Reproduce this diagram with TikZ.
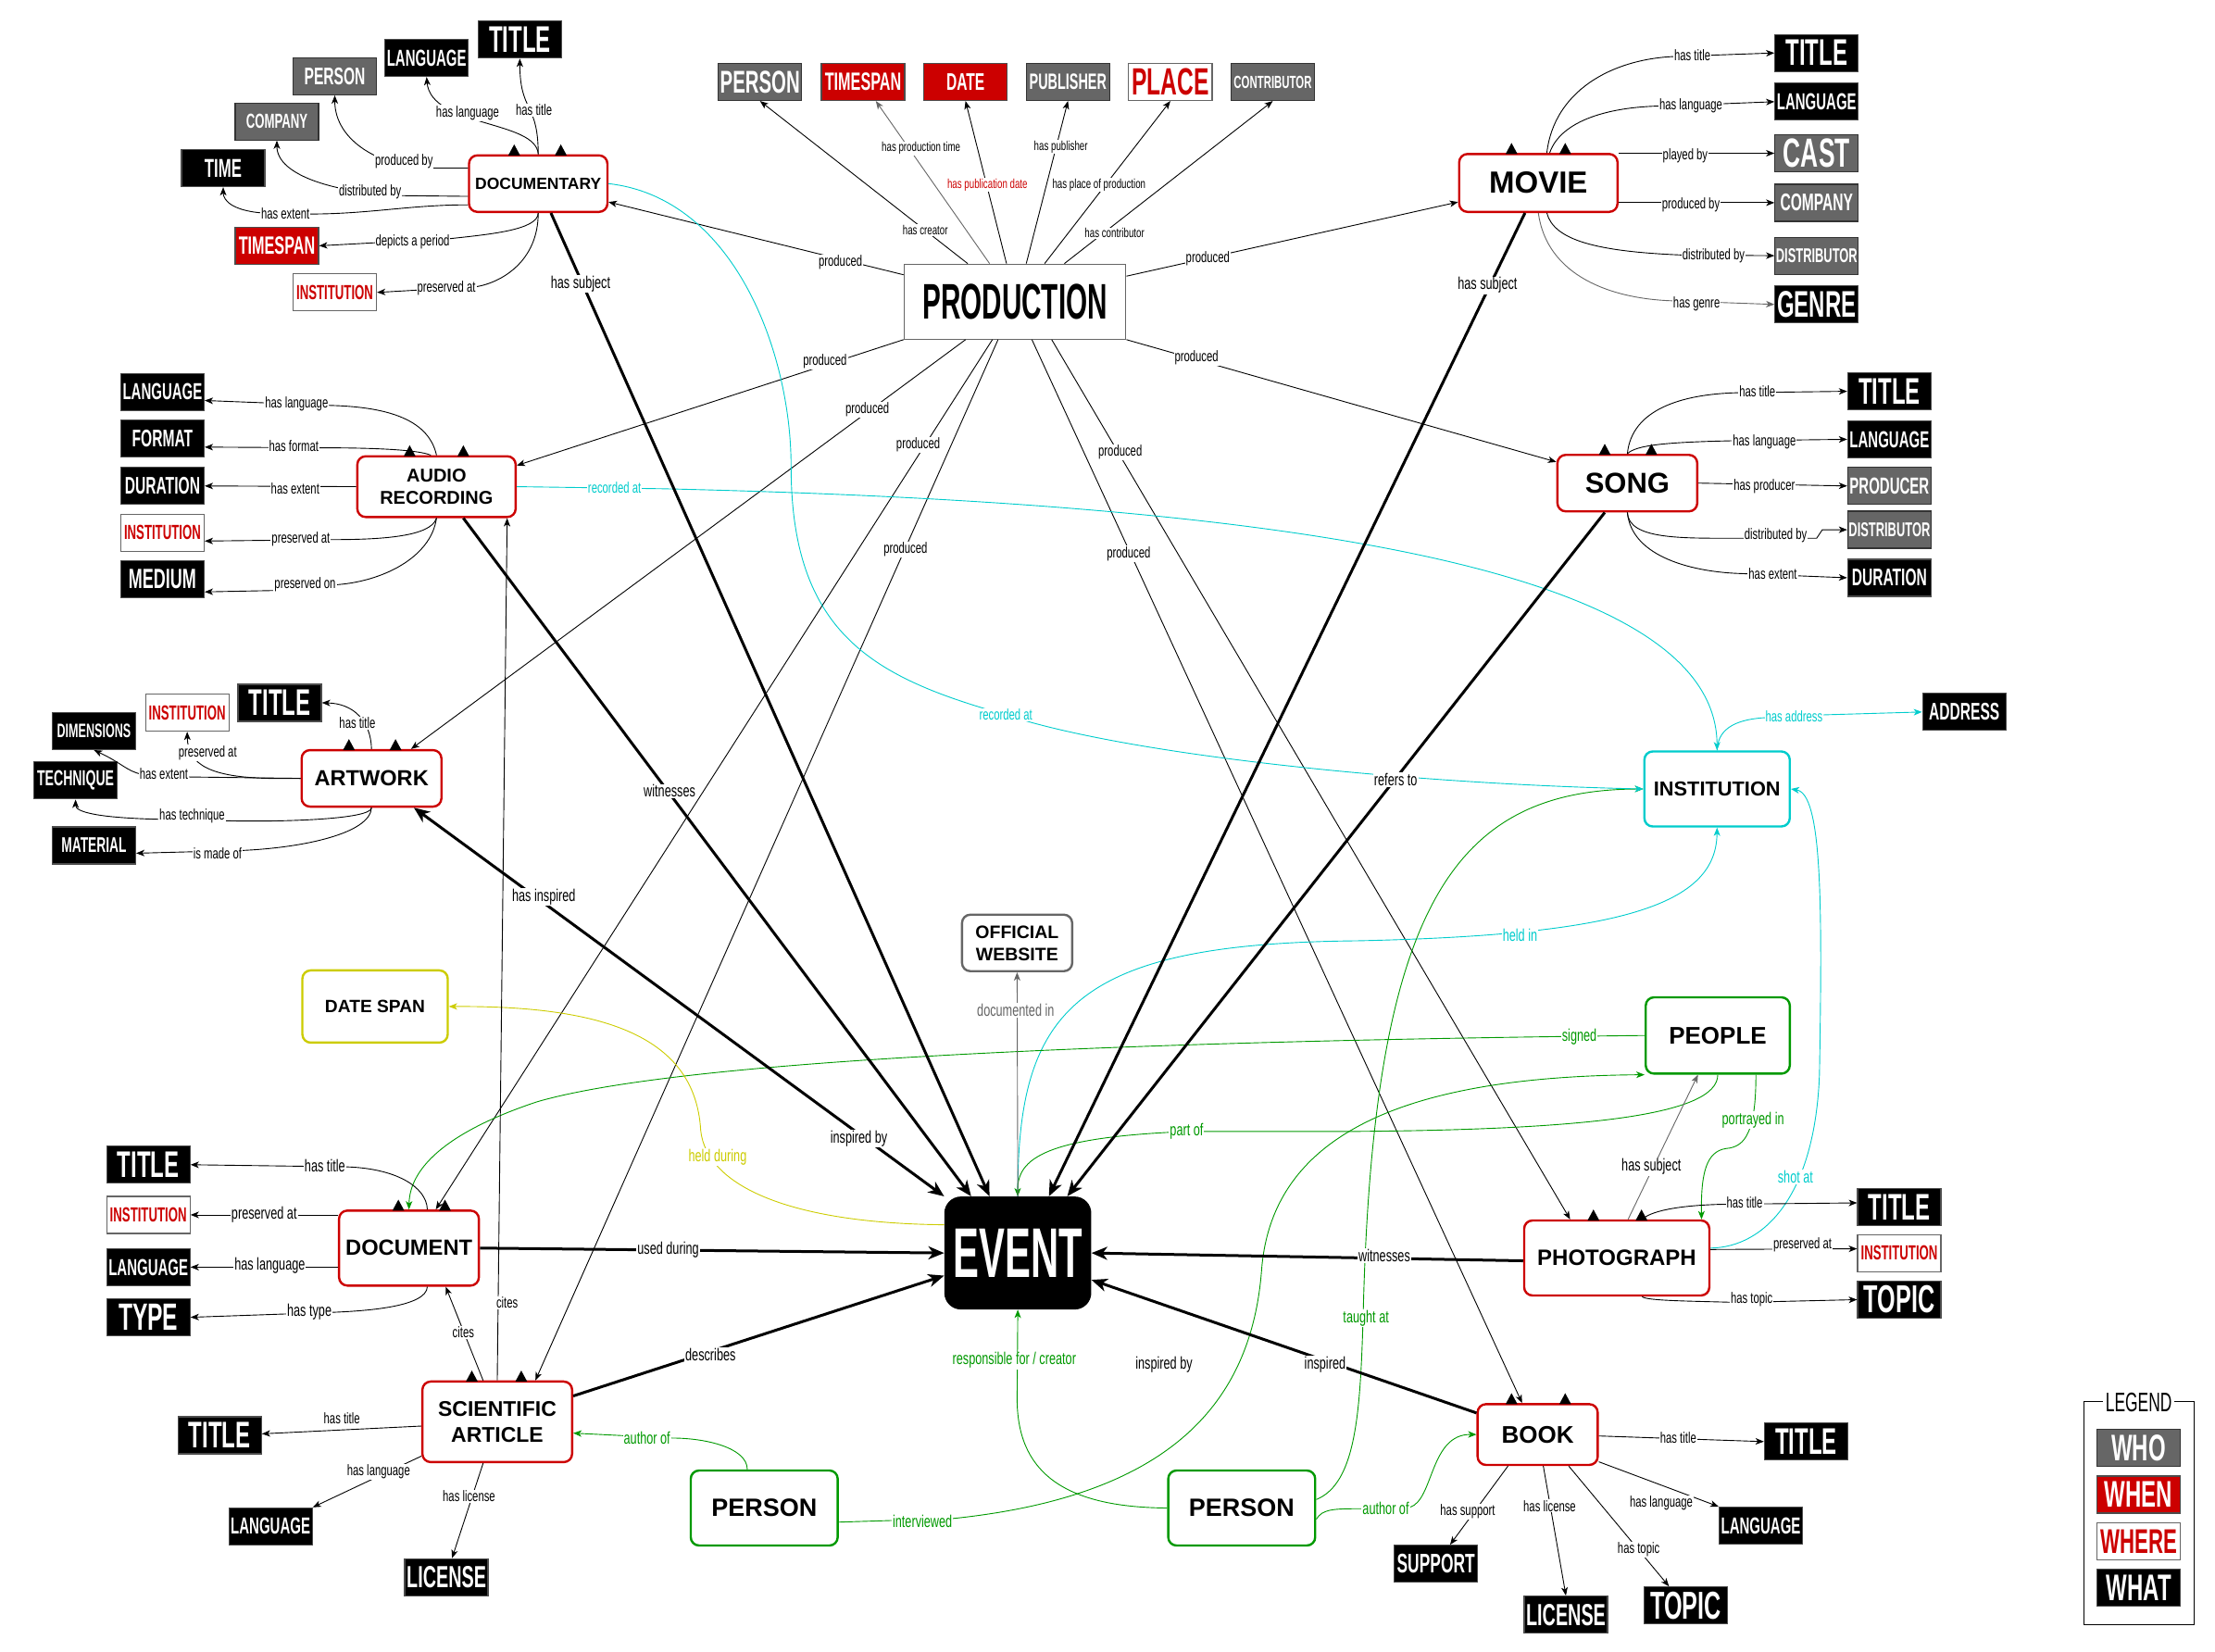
\documentclass[tikz,border=0pt]{standalone}
\usepackage{fontspec}
\setmainfont{Liberation Sans}
\newfontfamily\lblfont{Liberation Sans}[FakeStretch=0.69]
\newfontfamily\catfont{Liberation Sans}[FakeStretch=0.6]
\newfontfamily\bigfont{Liberation Sans}[FakeStretch=0.55]
\usetikzlibrary{arrows.meta,calc}
\newcommand\myfs[1]{\fontsize{#1}{#1}\selectfont}
\definecolor{dred}{HTML}{CC0000}
\definecolor{dgrey}{HTML}{666666}
\definecolor{dcyan}{HTML}{00CCCC}
\definecolor{dgreen}{HTML}{009900}
\definecolor{dyellow}{HTML}{CCCC00}
\tikzset{
 cat/.style={rectangle, minimum width=90pt, minimum height=40pt, inner sep=0pt, line width=1.2pt, font=\catfont\bfseries},
 what/.style={cat, fill=black, draw=black!70, text=white},
 who/.style={cat, fill=dgrey, draw=black!80, text=white},
 when/.style={cat, fill=dred, draw=black!70, text=white},
 where/.style={cat, fill=white, draw=dgrey, text=dred},
 ent/.style={rectangle, rounded corners=9pt, draw=dred, line width=2.4pt, fill=white, align=center, inner sep=2pt},
 lbl/.style={font=\lblfont\myfs{16.4}, fill=white, inner sep=1pt},
 clbl/.style={font=\lblfont\myfs{18.4}, fill=white, inner sep=1pt},
 plbl/.style={font=\lblfont\myfs{14.1}, fill=white, inner sep=1pt},
 tarr/.style={line width=0.9pt, -{Stealth[length=9pt,width=7pt,inset=2.5pt]}},
 Tarr/.style={line width=3pt, -{Stealth[length=17pt,width=14pt,inset=5pt]}},
 Tboth/.style={line width=3pt, {Stealth[length=17pt,width=14pt,inset=5pt]}-{Stealth[length=17pt,width=14pt,inset=5pt]}},
}
\begin{document}
\begin{tikzpicture}[x=1.52551pt,y=-1.52551pt]
\useasboundingbox (0,0) rectangle (1568,1169.4);

% ---------- entity nodes ----------
\node[ent, minimum width=149.5pt, minimum height=61pt, font=\bfseries\myfs{17.5}] (doc) at (381,130) {DOCUMENTARY};
\node[ent, minimum width=171pt, minimum height=62.5pt, font=\bfseries\myfs{33}] (movie) at (1089,129.5) {MOVIE};
\node[ent, minimum width=171pt, minimum height=65.6pt, font=\bfseries\fontsize{20}{24}\selectfont] (audio) at (309,344.5) {AUDIO\\RECORDING};
\node[ent, minimum width=151pt, minimum height=61pt, font=\bfseries\myfs{31}] (song) at (1152,342) {SONG};
\node[ent, minimum width=151pt, minimum height=61pt, font=\bfseries\myfs{23.6}] (art) at (263,551) {ARTWORK};
\node[rectangle, draw=dgrey, line width=1.2pt, fill=white, minimum width=239.5pt, minimum height=81pt, inner sep=0pt, font=\bigfont\bfseries\myfs{54}] (prod) at (718.5,213.5) {PRODUCTION};
\node[rectangle, rounded corners=18pt, fill=black, minimum width=158.7pt, minimum height=122pt, inner sep=0pt, text=white, font=\bigfont\bfseries\myfs{76}] (event) at (720.5,887) {EVENT};
\node[ent, draw=dgrey, minimum width=119pt, minimum height=61pt, font=\bfseries\fontsize{19.5}{24}\selectfont] (web) at (720,667.5) {OFFICIAL\\WEBSITE};
\node[ent, draw=dyellow, minimum width=157pt, minimum height=78pt, font=\bfseries\myfs{19.2}] (datespan) at (265.5,712.5) {DATE SPAN};
\node[ent, draw=dcyan, minimum width=157pt, minimum height=81pt, font=\bfseries\myfs{21.8}] (inst) at (1215.5,558.5) {INSTITUTION};
\node[ent, draw=dgreen, minimum width=155.6pt, minimum height=82.4pt, font=\bfseries\myfs{26}] (people) at (1216,733) {PEOPLE};
\node[ent, minimum width=151pt, minimum height=81pt, font=\bfseries\myfs{23.7}] (document) at (289.5,883.5) {DOCUMENT};
\node[ent, minimum width=161.7pt, minimum height=87pt, font=\bfseries\fontsize{23}{28}\selectfont] (sci) at (352,1006.5) {SCIENTIFIC\\ARTICLE};
\node[ent, draw=dgreen, minimum width=158.7pt, minimum height=81pt, font=\bfseries\myfs{27}] (person1) at (541,1067.5) {PERSON};
\node[ent, draw=dgreen, minimum width=158.7pt, minimum height=81pt, font=\bfseries\myfs{27}] (person2) at (879,1067.5) {PERSON};
\node[ent, minimum width=200pt, minimum height=81pt, font=\bfseries\myfs{24}] (photo) at (1144.5,890.5) {PHOTOGRAPH};
\node[ent, minimum width=129.7pt, minimum height=65.6pt, font=\bfseries\myfs{26}] (book) at (1088.5,1015.5) {BOOK};

% ---------- category boxes ----------
\node[what] (dtitle) at (368,28) {\myfs{40}TITLE};
\node[what] (dlang) at (302,41) {\myfs{25}LANGUAGE};
\node[who] (dperson) at (237,54) {\myfs{26}PERSON};
\node[who] (dcompany) at (196,86) {\myfs{22}COMPANY};
\node[what] (dtime) at (158,119) {\myfs{28}TIME};
\node[when] (dtimespan) at (196,174) {\myfs{27}TIMESPAN};
\node[where] (dinst) at (237,207) {\myfs{22}INSTITUTION};

\node[who] (pperson) at (538,58) {\myfs{34}PERSON};
\node[when] (ptimespan) at (611,58) {\myfs{27}TIMESPAN};
\node[when] (pdate) at (683.5,58) {\myfs{26}DATE};
\node[who] (ppub) at (756,58) {\myfs{24}PUBLISHER};
\node[where] (pplace) at (828.5,58) {\myfs{41}PLACE};
\node[who] (pcontrib) at (901,58) {\myfs{19}CONTRIBUTOR};

\node[what] (mtitle) at (1286,37.5) {\myfs{40}TITLE};
\node[what] (mlang) at (1286,72) {\myfs{25}LANGUAGE};
\node[who] (mcast) at (1286,108.5) {\myfs{44}CAST};
\node[who] (mcompany) at (1286,143.5) {\myfs{26}COMPANY};
\node[who] (mdistrib) at (1286,181) {\myfs{21.5}DISTRIBUTOR};
\node[what] (mgenre) at (1286,215.5) {\myfs{40}GENRE};

\node[what] (alang) at (115,277.5) {\myfs{25}LANGUAGE};
\node[what] (aformat) at (115,310.5) {\myfs{26}FORMAT};
\node[what] (aduration) at (115,344) {\myfs{26}DURATION};
\node[where] (ainst) at (115,377) {\myfs{22}INSTITUTION};
\node[what] (amedium) at (115,410) {\myfs{30}MEDIUM};

\node[what] (stitle) at (1337.5,277) {\myfs{40}TITLE};
\node[what] (slang) at (1337.5,311) {\myfs{25}LANGUAGE};
\node[who] (sproducer) at (1337.5,344) {\myfs{25}PRODUCER};
\node[who] (sdistrib) at (1337.5,375) {\myfs{21.5}DISTRIBUTOR};
\node[what] (sduration) at (1337.5,409) {\myfs{26}DURATION};

\node[what] (arttitle) at (198,497.5) {\myfs{40}TITLE};
\node[where] (artinst) at (132.5,504.5) {\myfs{22}INSTITUTION};
\node[what] (artdim) at (66.5,517.5) {\myfs{21}DIMENSIONS};
\node[what] (arttech) at (53.5,552.5) {\myfs{23.5}TECHNIQUE};
\node[what] (artmat) at (66.5,598.5) {\myfs{23}MATERIAL};

\node[what] (address) at (1390.5,504) {\myfs{26}ADDRESS};

\node[what] (doctitle) at (105,824.5) {\myfs{40}TITLE};
\node[where] (docinst) at (105,860) {\myfs{22}INSTITUTION};
\node[what] (doclang) at (105,897) {\myfs{25}LANGUAGE};
\node[what] (doctype) at (105,932.5) {\myfs{41}TYPE};

\node[what] (scititle) at (155.5,1016) {\myfs{40}TITLE};
\node[what] (scilang) at (191.5,1080.5) {\myfs{25}LANGUAGE};
\node[what] (scilicense) at (316,1116.5) {\myfs{33}LICENSE};

\node[what] (phtitle) at (1344.5,854.5) {\myfs{40}TITLE};
\node[where] (phinst) at (1344.5,887) {\myfs{22}INSTITUTION};
\node[what] (phtopic) at (1344.5,920) {\myfs{42}TOPIC};

\node[what] (btitle) at (1278.5,1020.5) {\myfs{40}TITLE};
\node[what] (blang) at (1246.5,1080) {\myfs{25}LANGUAGE};
\node[what] (bsupport) at (1016.5,1107) {\myfs{29}SUPPORT};
\node[what] (blicense) at (1108.5,1143) {\myfs{33}LICENSE};
\node[what] (btopic) at (1193.5,1136.5) {\myfs{42}TOPIC};

% legend
\node[draw, line width=1pt, minimum width=119pt, minimum height=241pt] (legendbox) at (1514,1071) {};
\node[fill=white, inner sep=3pt, font=\catfont\myfs{29}] (legendtitle) at (1514,992.5) {LEGEND};
\node[who] (lgwho) at (1514,1025) {\myfs{40}WHO};
\node[when] (lgwhen) at (1514,1058) {\myfs{40}WHEN};
\node[where] (lgwhere) at (1514,1091) {\myfs{37}WHERE};
\node[what] (lgwhat) at (1514,1124) {\myfs{40}WHAT};

% ---------- small triangles ----------
\foreach \tx/\ty in {364/110, 397/110, 1070/109, 1108/109, 290/323, 328/323, 1136/322, 1169/322, 247/531, 280/531, 282/857, 315/857, 334/978, 369/978, 1128/864, 1162/864, 1070/994, 1108/994}
  \fill (\tx-4.2,\ty) -- (\tx+4.2,\ty) -- (\tx,\ty-7.8) -- cycle;

% ---------- documentary edges ----------
\draw[tarr] (doc.north) .. controls (381,72) and (368,80) .. (dtitle.south);
\draw[tarr] (doc.north) .. controls (380,85) and (305,90) .. (dlang.south);
\draw[tarr] ($(doc.west)+(0,-11)$) -- (306,119) .. controls (270,119) and (237,100) .. (dperson.south);
\draw[tarr] ($(doc.west)+(0,9)$) -- (286,138.5) .. controls (240,137) and (196,125) .. (dcompany.south);
\draw[tarr] ($(doc.west)+(0,15)$) .. controls (290,145) and (262,151.5) .. (219,151.5) -- (190,151) .. controls (165,150) and (158,142) .. (dtime.south);
\draw[tarr] (doc.south) .. controls (381,163) and (345,166) .. (318,169) -- (dtimespan.east);
\draw[tarr] (doc.south) .. controls (381,185) and (355,200) .. (337,203) -- (dinst.east);

% ---------- production edges ----------
\draw[tarr] ($(prod.north)+(-33.5,0)$) -- (pperson.south);
\draw[tarr, draw=dgrey] ($(prod.north)+(-18,0)$) -- ($(ptimespan.south)+(9,0)$);
\draw[tarr] ($(prod.north)+(-6,0)$) -- (pdate.south);
\draw[tarr] ($(prod.north)+(8,0)$) -- (ppub.south);
\draw[tarr] ($(prod.north)+(21,0)$) -- (pplace.south);
\draw[tarr] ($(prod.north)+(35,0)$) -- (pcontrib.south);

\draw[tarr] ($(prod.west)+(0,-19)$) -- ($(doc.east)+(0,13)$);
\draw[tarr] ($(prod.east)+(0,-18)$) -- ($(movie.west)+(0,13.5)$);
\draw[tarr] (prod.south west) -- ($(audio.east)+(0,-15)$);
\draw[tarr] (prod.south east) -- ($(song.west)+(0,-15)$);
\draw[tarr] ($(prod.south)+(-35,0)$) -- ($(art.north)+(28,0)$);
\draw[tarr] ($(prod.south)+(-16,0)$) -- ($(document.north)+(19,0)$);
\draw[tarr] ($(prod.south)+(-12,0)$) -- ($(sci.north)+(27,0)$);
\draw[tarr] ($(prod.south)+(12,0)$) -- ($(book.north)+(-11,0)$);
\draw[tarr] ($(prod.south)+(26,0)$) -- ($(photo.north)+(-33,0)$);

% ---------- movie edges ----------
\draw[tarr] ($(movie.north)+(6,0)$) .. controls (1100,65) and (1140,42) .. (1185,40) -- (mtitle.west);
\draw[tarr] ($(movie.north)+(8,0)$) .. controls (1105,85) and (1140,75) .. (1180,75) -- (mlang.west);
\draw[tarr] (movie.north east |- mcast.west) -- (mcast.west);
\draw[tarr] (movie.east |- mcompany.west) -- (mcompany.west);
\draw[tarr] ($(movie.south)+(6,0)$) .. controls (1100,170) and (1130,178) .. (1190,180.5) -- (mdistrib.west);
\draw[tarr, draw=dgrey] (movie.south) .. controls (1095,195) and (1140,212) .. (1186,213) -- (mgenre.west);

% ---------- song edges ----------
\draw[tarr] (song.north) .. controls (1155,290) and (1190,279) .. (1230,278) -- (stitle.west);
\draw[tarr] (song.north) .. controls (1158,315) and (1180,313) .. (1227,312) -- (slang.west);
\draw[tarr] (song.east) -- (sproducer.west);
\draw[tarr] (song.south) .. controls (1153,382) and (1190,381) .. (1230,381) -- (1286,381) -- (1290,375) -- (sdistrib.west);
\draw[tarr] (song.south) .. controls (1155,395) and (1200,405) .. (1232,406) -- (sduration.west);

% ---------- audio edges ----------
\draw[tarr] (audio.north) .. controls (303,295) and (270,288) .. (234,287) -- ($(alang.east)+(0,6)$);
\draw[tarr] ($(audio.north)+(-4,0)$) .. controls (295,318) and (260,317) .. (227,317) -- ($(aformat.east)+(0,6)$);
\draw[tarr] (audio.west) -- (aduration.east);
\draw[tarr] (audio.south) .. controls (305,380) and (270,382) .. (234,382) -- ($(ainst.east)+(0,6)$);
\draw[tarr] (audio.south) .. controls (305,395) and (270,412) .. (237,414) -- (195,418) -- ($(amedium.east)+(0,9)$);
\draw[tarr, draw=dcyan] (audio.east) -- (470,346) .. controls (900,356) and (1215,400) .. (inst.north);

% ---------- artwork edges ----------
\draw[tarr] (art.north) .. controls (262.5,510) and (250,498) .. (arttitle.east);
\draw[tarr] (art.west) -- (190,551) .. controls (150,550) and (133,542) .. (artinst.south);
\draw[tarr] (art.west) -- (134,550) -- (100,548) .. controls (90,546) and (86,540) .. (artdim.south);
\draw[tarr] (art.south) .. controls (263,580) and (200,582) .. (160,581) -- (114,580) .. controls (70,579) and (53.5,575) .. (arttech.south);
\draw[tarr] (art.south) .. controls (262,590) and (215,600) .. (172,602) -- ($(artmat.east)+(0,5.5)$);

% ---------- institution edges ----------
\draw[tarr, draw=dcyan] (inst.north) .. controls (1216,514) and (1232,509) .. (1250,508) -- (1292,506) -- (address.west);
\draw[tarr, draw=dcyan] (event.north) .. controls (720,715) and (760,668) .. (960,666) .. controls (1150,662) and (1215,640) .. (inst.south);
\draw[tarr, draw=dgreen] ($(person2.east)+(0,-6)$) .. controls (960,1050) and (963,1000) .. (965,930) .. controls (972,640) and (1030,559) .. (inst.west);
\draw[tarr, draw=dcyan] ($(photo.east)+(0,-7)$) .. controls (1250,883) and (1285,845) .. (1288,760) .. controls (1290,640) and (1290,562) .. (inst.east);
\draw[tarr, draw=dcyan] (doc.east) .. controls (520,140) and (560,250) .. (560,330) .. controls (560,450) and (620,480) .. (712,506) .. controls (800,535) and (1000,555) .. (inst.west);

% ---------- people / person edges ----------
\draw[tarr, draw=dgreen] (people.west) .. controls (900,736) and (500,745) .. (380,780) .. controls (320,800) and (290,825) .. (document.north);
\draw[tarr, draw=dgreen] (people.south) .. controls (1216,790) and (1120,800) .. (950,801) -- (840,801) .. controls (740,805) and (720,820) .. (event.north);
\draw[tarr, draw=dgreen] ($(people.south)+(27,0)$) .. controls (1243,800) and (1236,812) .. (1222,813) .. controls (1208,815) and (1204,830) .. ($(photo.north)+(60,0)$);
\draw[tarr, draw=dgrey] ($(photo.north)+(8,0)$) -- ($(people.south)+(-14,0)$);
\draw[tarr, draw=dgreen] ($(person1.east)+(0,10)$) -- (674,1075) .. controls (820,1060) and (885,1000) .. (893,900) .. controls (900,800) and (1000,762) .. (people.south west);
\draw[tarr, draw=dgreen] (person2.west) .. controls (750,1067) and (720,1040) .. (720,990) -- (event.south);
\draw[tarr, draw=dgreen] ($(person1.north)+(-12,0)$) .. controls (529,1025) and (500,1018) .. (476,1018) -- ($(sci.east)+(0,8)$);
\draw[tarr, draw=dgreen] ($(person2.east)+(0,8)$) .. controls (936,1068) and (945,1068) .. (964,1068) -- (998,1067) .. controls (1015,1062) and (1012,1015) .. (book.west);

% ---------- event edges ----------
\draw[tarr, draw=dgrey] (event.north) -- (web.south);
\draw[tarr, draw=dyellow] ($(event.west)+(0,-20)$) .. controls (560,866) and (500,840) .. (496,800) .. controls (492,730) and (420,712) .. (datespan.east);

\draw[Tarr] ($(doc.south)+(9,0)$) -- ($(event.north)+(-20,0)$);
\draw[Tarr] ($(audio.south)+(19,0)$) -- ($(event.north)+(-33,0)$);
\draw[Tarr] ($(movie.south)+(-9.5,0)$) -- ($(event.north)+(22,0)$);
\draw[Tarr] ($(song.south)+(-16,0)$) -- ($(event.north)+(35,0)$);
\draw[Tboth] ($(art.south)+(30,0)$) -- (event.north west);
\draw[Tarr] (document.east) -- (event.west);
\draw[Tarr] ($(sci.north east)+(0,11)$) -- ($(event.west)+(0,16)$);
\draw[Tarr] ($(photo.west)+(0,2)$) -- (event.east);
\draw[Tarr] ($(book.north west)+(0,7)$) -- ($(event.east)+(0,19)$);

% ---------- sci / document / photo / book edges ----------
\draw[tarr] ($(sci.north)+(-10,0)$) -- ($(document.south)+(26,0)$);
\draw[tarr] (sci.north) -- ($(audio.south)+(50,0)$);
\draw[tarr] ($(sci.west)+(0,3)$) -- ($(scititle.east)+(0,-1)$);
\draw[tarr] ($(sci.south west)+(0,-5)$) -- (scilang.north east);
\draw[tarr] ($(sci.south)+(-10,0)$) -- ($(scilicense.north)+(4,0)$);

\draw[tarr] ($(document.north)+(13,0)$) .. controls (302,840) and (280,827) .. (245,826) -- (doctitle.east);
\draw[tarr] (document.west |- docinst.east) -- (docinst.east);
\draw[tarr] (document.west |- doclang.east) -- (doclang.east);
\draw[tarr] ($(document.south)+(13,0)$) .. controls (302,925) and (260,928) .. (235,929) -- (doctype.east);

\draw[tarr] ($(photo.north)+(18,0)$) .. controls (1170,856) and (1195,853) .. (1220,852.5) -- ($(phtitle.west)+(0,-3)$);
\draw[tarr] ($(photo.east)+(0,-6)$) -- ($(phinst.west)+(0,-3)$);
\draw[tarr] ($(photo.south)+(18,0)$) .. controls (1165,921) and (1200,921) .. (1230,922) -- (phtopic.west);

\draw[tarr] ($(book.east)+(0,1)$) -- (btitle.west);
\draw[tarr] ($(book.south east)+(0,-3)$) -- (blang.north west);
\draw[tarr] ($(book.south)+(-21,0)$) -- ($(bsupport.north)+(10,0)$);
\draw[tarr] ($(book.south)+(4,0)$) -- (blicense.north);
\draw[tarr] ($(book.south)+(22,0)$) -- ($(btopic.north)+(-12,0)$);

% ---------- labels ----------
\node[lbl] (l1) at (331,80) {has language};
\node[lbl] (l2) at (378,78) {has title};
\node[lbl] (l3) at (286,114) {produced by};
\node[lbl] (l4) at (262,136) {distributed by};
\node[lbl] (l5) at (202,151) {has extent};
\node[lbl] (l6) at (292,171) {depicts a period};
\node[lbl] (l7) at (316,204) {preserved at};

\node[plbl] (l8) at (655,163) {has creator};
\node[plbl] (l9) at (652,105) {has production time};
\node[plbl, text=dred] (l10) at (699,131) {has publication date};
\node[plbl] (l11) at (751,104) {has publisher};
\node[plbl] (l12) at (778,131) {has place of production};
\node[plbl] (l13) at (789,165) {has contributor};

\node[lbl] (l14) at (595,186) {produced};
\node[lbl] (l15) at (855,183) {produced};
\node[lbl] (l16) at (584,256) {produced};
\node[lbl] (l17) at (847,253) {produced};
\node[lbl] (l18) at (614,290) {produced};
\node[lbl] (l19) at (650,315) {produced};
\node[lbl] (l20) at (641,389) {produced};
\node[lbl] (l21) at (793,320) {produced};
\node[lbl] (l22) at (799,392) {produced};

\node[lbl] (l23) at (1198,39) {has title};
\node[lbl] (l24) at (1197,75) {has language};
\node[lbl] (l25) at (1193,110) {played by};
\node[lbl] (l26) at (1197,145) {produced by};
\node[lbl] (l27) at (1213,181) {distributed by};
\node[lbl] (l28) at (1201,215) {has genre};

\node[lbl] (l29) at (1244,277) {has title};
\node[lbl] (l30) at (1249,313) {has language};
\node[lbl] (l31) at (1249,344) {has producer};
\node[lbl] (l32) at (1257,379) {distributed by};
\node[lbl] (l33) at (1255,406) {has extent};

\node[lbl] (l34) at (210,286) {has language};
\node[lbl] (l35) at (208,316) {has format};
\node[lbl] (l36) at (209,346) {has extent};
\node[lbl] (l37) at (213,382) {preserved at};
\node[lbl] (l38) at (216,414) {preserved on};
\node[lbl, text=dcyan] (l39) at (435,345) {recorded at};

\node[lbl] (l40) at (253,512) {has title};
\node[lbl] (l41) at (147,533) {preserved at};
\node[lbl] (l42) at (116,548) {has extent};
\node[lbl] (l43) at (136,578) {has technique};
\node[lbl] (l44) at (154,604) {is made of};

\node[lbl, text=dcyan] (l45) at (1270,507) {has address};
\node[clbl, text=dcyan] (l46) at (1076,662) {held in};
\node[clbl, text=dgreen] (l47) at (967,933) {taught at};
\node[clbl, text=dcyan] (l48) at (1271,833) {shot at};
\node[lbl, text=dcyan] (l49) at (712,506) {recorded at};

\node[clbl, text=dgreen] (l50) at (1118,734) {signed};
\node[clbl, text=dgreen] (l51) at (840,801) {part of};
\node[clbl, text=dgreen] (l52) at (1241,793) {portrayed in};
\node[clbl] (l53) at (1169,826) {has subject};
\node[clbl, text=dgreen] (l54) at (653,1077) {interviewed};
\node[clbl, text=dgreen] (l55) at (718,963) {responsible for / creator};
\node[clbl, text=dgreen] (l56) at (458,1018) {author of};
\node[clbl, text=dgreen] (l57) at (981,1068) {author of};

\node[clbl, text=dgrey] (l58) at (719,715) {documented in};
\node[clbl, text=dyellow] (l59) at (508,819) {held during};

\node[clbl] (l60) at (411,201) {has subject};
\node[clbl] (l61) at (474,560) {witnesses};
\node[clbl] (l62) at (1053,202) {has subject};
\node[clbl] (l63) at (988,552) {refers to};
\node[clbl] (l64) at (385,635) {has inspired};
\node[clbl] (l65) at (608,806) {inspired by};
\node[clbl] (l66) at (473,885) {used during};
\node[clbl] (l67) at (503,959) {describes};
\node[clbl] (l68) at (980,889) {witnesses};
\node[clbl] (l69) at (938,966) {inspired};
\node[clbl] (l70) at (824,966) {inspired by};

\node[lbl] (l71) at (328,943) {cites};
\node[lbl] (l72) at (359,922) {cites};
\node[lbl] (l73) at (242,1004) {has title};
\node[lbl] (l74) at (268,1042) {has language};
\node[lbl] (l75) at (332,1059) {has license};

\node[clbl] (l76) at (230,825) {has title};
\node[clbl] (l77) at (187,860) {preserved at};
\node[clbl] (l78) at (191,896) {has language};
\node[clbl] (l79) at (219,929) {has type};

\node[lbl] (l80) at (1235,851) {has title};
\node[lbl] (l81) at (1276,881) {preserved at};
\node[lbl] (l82) at (1240,920) {has topic};

\node[lbl] (l83) at (1188,1018) {has title};
\node[lbl] (l84) at (1176,1064) {has language};
\node[lbl] (l85) at (1039,1070) {has support};
\node[lbl] (l86) at (1097,1066) {has license};
\node[lbl] (l87) at (1160,1097) {has topic};
\end{tikzpicture}
\end{document}
